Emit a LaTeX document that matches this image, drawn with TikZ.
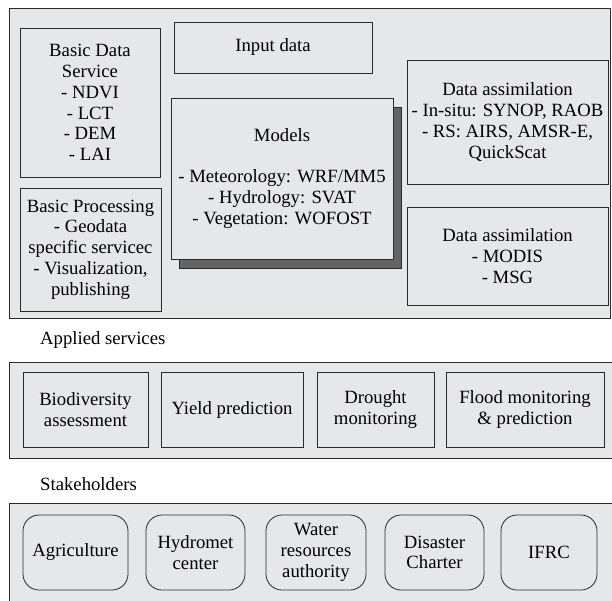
\documentclass[tikz,border=0pt]{standalone}
\usepackage{fontspec}
\setmainfont{Liberation Serif}
\definecolor{panelgray}{HTML}{E6E7E9}
\definecolor{shadowgray}{HTML}{646464}
\definecolor{edge}{HTML}{2A2A2A}
\tikzset{
  panel/.style={draw=edge, line width=0.9pt, fill=panelgray},
  box/.style={draw=edge, line width=0.8pt, fill=panelgray, align=center,
    inner sep=0pt, font=\fontsize{18.7}{20.7}\selectfont},
  roundbox/.style={box, rounded corners=16pt},
  shadowbox/.style={draw=edge, line width=0.8pt, fill=shadowgray, inner sep=0pt},
  caption/.style={anchor=base west, inner sep=0pt, font=\fontsize{18.7}{20.7}\selectfont}
}
\begin{document}
\begin{tikzpicture}[x=1pt, y=-1pt]
\clip (0,0) rectangle (612,601);

% three framed panels
\draw[panel] (9,8) rectangle (610,318);
\draw[panel] (9,362) rectangle (618,458);
\draw[panel] (9,503) rectangle (618,610);

% upper panel: data and model layer
\node[box, minimum width=140pt, minimum height=149pt] (bds) at (90,102.5)
  {Basic Data\\Service\\- NDVI\\- LCT\\- DEM\\- LAI};
\node[box, minimum width=141pt, minimum height=123pt] (bproc) at (90.5,249.5)
  {Basic Processing\\- Geodata\\specific servicec\\- Visualization,\\publishing};
\node[box, minimum width=198pt, minimum height=51pt] (input) at (273,47.5)
  {Input data};
\node[shadowbox, minimum width=222pt, minimum height=161pt] (modshadow) at (290,187.5) {};
\node[box, minimum width=222pt, minimum height=161pt] (models) at (282,178.5)
  {Models\\[20.7pt]- Meteorology: WRF/MM5\\- Hydrology: SVAT\\- Vegetation: WOFOST};
\node[box, minimum width=201pt, minimum height=124pt] (da1) at (507.5,122)
  {Data assimilation\\- In-situ: SYNOP, RAOB\\- RS: AIRS, AMSR-E,\\QuickScat};
\node[box, minimum width=201pt, minimum height=98pt] (da2) at (507.5,256)
  {Data assimilation\\- MODIS\\- MSG};

% applied services
\node[caption] (applab) at (40,344.5) {Applied services};
\node[box, minimum width=125pt, minimum height=75pt] (bio) at (85.5,409.5)
  {Biodiversity\\assessment};
\node[box, minimum width=142pt, minimum height=75pt] (yield) at (232,409.5)
  {Yield prediction};
\node[box, minimum width=117pt, minimum height=75pt] (drought) at (375.5,409.5)
  {Drought\\monitoring};
\node[box, minimum width=158pt, minimum height=75pt] (flood) at (525,409.5)
  {Flood monitoring\\\& prediction};

% stakeholders
\node[caption] (stlab) at (40,490) {Stakeholders};
\node[roundbox, minimum width=105pt, minimum height=75pt] (agri) at (75.5,552.5)
  {Agriculture};
\node[roundbox, minimum width=99pt, minimum height=75pt] (hydro) at (195.5,552.5)
  {Hydromet\\center};
\node[roundbox, minimum width=100pt, minimum height=75pt] (water) at (316,552.5)
  {Water\\resources\\authority};
\node[roundbox, minimum width=99pt, minimum height=75pt] (disaster) at (434.5,552.5)
  {Disaster\\Charter};
\node[roundbox, minimum width=96pt, minimum height=75pt] (ifrc) at (549,552.5)
  {IFRC};
\end{tikzpicture}
\end{document}
